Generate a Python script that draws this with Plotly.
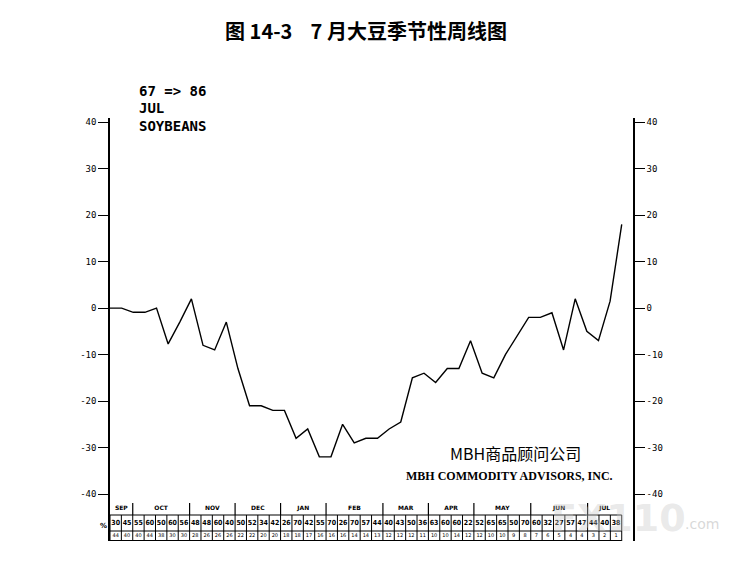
import plotly.graph_objects as go

# weekly seasonal index, Sep -> Jul (67 => 86)
weeks = list(range(45))
seasonal = [0, 0, -0.9, -0.9, 0, -7.7, -3, 2, -8, -9,
            -3, -13, -21, -21, -22, -22, -28, -26, -32, -32,
            -25, -29, -28, -28, -26, -24.5, -15, -14, -16, -13,
            -13, -7, -14, -15, -10, -6, -2, -2, -1, -9,
            2, -5, -7, 1.5, 18]

# percent-up row and years row of the table under the chart
pct_up = [30, 45, 55, 60, 50, 60, 56, 48, 48, 60,
          40, 50, 52, 34, 42, 26, 70, 42, 55, 70,
          26, 70, 57, 44, 40, 43, 50, 36, 63, 60,
          60, 22, 52, 65, 65, 50, 70, 60, 32, 27,
          57, 47, 44, 40, 38]
years_row = [44, 40, 40, 44, 38, 30, 30, 28, 26, 26,
             26, 22, 22, 20, 20, 18, 18, 17, 16, 16,
             16, 14, 14, 13, 12, 12, 12, 11, 10, 10,
             14, 12, 12, 10, 10, 9, 8, 7, 6, 5,
             4, 4, 3, 2, 1]

month_names = ["SEP", "OCT", "NOV", "DEC", "JAN", "FEB", "MAR", "APR", "MAY", "JUN", "JUL"]
month_start = [0, 2, 7, 11, 15, 19, 24, 28, 32, 37, 42]

y_ticks = [40, 30, 20, 10, 0, -10, -20, -30, -40]

# geometry, in pixels of the reference page; the html body adds an 8px margin
PAGE_W, PAGE_H, BODY = 739, 569, 8
W, H = PAGE_W - 2 * BODY, PAGE_H - 2 * BODY
L, R, T, B = 110, 633, 118, 541
X_MAX = 44.97
Y_TOP, Y_BOT = 40.9, -50.1
N = len(pct_up)
CELL = (len(weeks) - 1) / N


def yd(py):
    # page pixel row -> data y
    return Y_TOP - (py - T) * (Y_TOP - Y_BOT) / (B - T)


def px(x):
    return (x - L) / (R - L)


def py(y):
    return (B - y) / (B - T)


tick_font = dict(family="DejaVu Sans Mono", size=9, color="black")
dot_font = dict(family="DejaVu Sans Mono", size=14, color="black")

fig = go.Figure()

fig.add_trace(go.Scatter(
    x=weeks, y=seasonal, mode="lines",
    line=dict(color="black", width=1.4),
    hoverinfo="skip", showlegend=False,
))
# carrier for the right-hand axis
fig.add_trace(go.Scatter(
    x=weeks, y=seasonal, mode="lines", yaxis="y2",
    line=dict(color="rgba(0,0,0,0)", width=0),
    hoverinfo="skip", showlegend=False,
))

# table text
centers = [(i + 0.5) * CELL for i in range(N)]
fig.add_trace(go.Scatter(
    x=centers, y=[yd(523)] * N, mode="text",
    text=["<b>%d</b>" % v for v in pct_up],
    textfont=dict(family="DejaVu Sans Condensed, DejaVu Sans", size=7, color="black"),
    hoverinfo="skip", showlegend=False,
))
fig.add_trace(go.Scatter(
    x=centers, y=[yd(536)] * N, mode="text",
    text=[str(v) for v in years_row],
    textfont=dict(family="DejaVu Sans", size=5, color="black"),
    hoverinfo="skip", showlegend=False,
))
m_end = month_start[1:] + [N]
fig.add_trace(go.Scatter(
    x=[(s + e) / 2 * CELL for s, e in zip(month_start, m_end)],
    y=[yd(508)] * len(month_names), mode="text",
    text=["<b>%s</b>" % m for m in month_names],
    textfont=dict(family="DejaVu Sans", size=6, color="black"),
    hoverinfo="skip", showlegend=False,
))

shapes = []
line_style = dict(color="black", width=1.2)
for yy in (yd(515), yd(531), yd(540.5)):
    shapes.append(dict(type="line", xref="x", yref="y", x0=0, x1=N * CELL,
                       y0=yy, y1=yy, line=line_style))
for k in range(N + 1):
    shapes.append(dict(type="line", xref="x", yref="y", x0=k * CELL, x1=k * CELL,
                       y0=yd(515), y1=yd(541), line=dict(color="black", width=1)))
for s in month_start[1:]:
    shapes.append(dict(type="line", xref="x", yref="y", x0=s * CELL, x1=s * CELL,
                       y0=yd(503), y1=yd(515), line=line_style))

annotations = [
    dict(text="<b>67 => 86</b>", x=px(137), y=py(91), xanchor="left", font=dot_font),
    dict(text="<b>JUL</b>", x=px(137), y=py(108), xanchor="left", font=dot_font),
    dict(text="<b>SOYBEANS</b>", x=px(137), y=py(126), xanchor="left", font=dot_font),
    dict(text="MBH商品顾问公司", x=px(515), y=py(453), xanchor="center",
         font=dict(family="Noto Sans CJK SC", size=16, color="black")),
    dict(text="<b>MBH COMMODITY ADVISORS, INC.</b>", x=px(509), y=py(476), xanchor="center",
         font=dict(family="Liberation Serif", size=12, color="black")),
    dict(text="<b>%</b>", x=px(103), y=py(526), xanchor="center",
         font=dict(family="DejaVu Sans", size=7, color="black")),
    # faint site watermark over the lower right corner
    dict(text="<b>FX110</b>", x=px(618), y=py(518), xanchor="center",
         font=dict(family="DejaVu Sans", size=38, color="rgba(200,200,200,0.4)")),
    dict(text=".com", x=px(683), y=py(524), xanchor="left",
         font=dict(family="DejaVu Sans", size=14, color="rgba(190,190,190,0.6)")),
]
for a in annotations:
    a.update(xref="paper", yref="paper", yanchor="middle", showarrow=False)

axis_common = dict(
    range=[Y_BOT, Y_TOP], tickvals=y_ticks, ticktext=[str(v) for v in y_ticks],
    ticks="outside", ticklen=10, tickwidth=1.2, tickcolor="black",
    showline=True, linecolor="black", linewidth=1.5,
    showgrid=False, zeroline=False, tickfont=tick_font, fixedrange=True,
)

fig.update_layout(
    width=W, height=H,
    margin=dict(l=L - BODY, r=W - (R - BODY), t=T - BODY, b=H - (B - BODY)),
    paper_bgcolor="white", plot_bgcolor="white",
    title=dict(text="<b>图 14-3&nbsp;&nbsp;&nbsp; 7 月大豆季节性周线图</b>",
               x=(366 - BODY) / W, xanchor="center", y=1 - (32 - BODY) / H, yanchor="middle",
               font=dict(family="Noto Sans CJK SC", size=20, color="black")),
    xaxis=dict(range=[0, X_MAX], visible=False, fixedrange=True),
    yaxis=dict(side="left", **axis_common),
    yaxis2=dict(side="right", overlaying="y", **axis_common),
    shapes=shapes,
    annotations=annotations,
    showlegend=False,
)

fig.write_html("out.html")
